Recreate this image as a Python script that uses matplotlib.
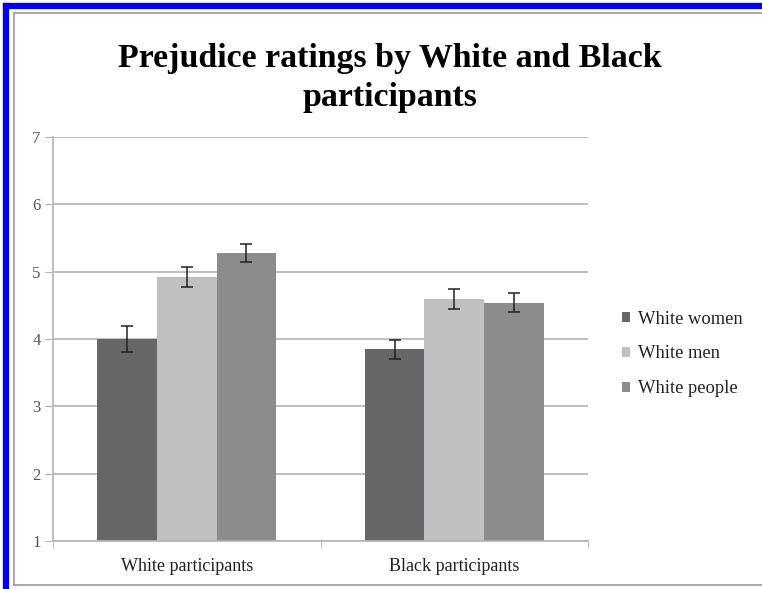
import matplotlib

matplotlib.use("Agg")
import matplotlib.pyplot as plt
from matplotlib.lines import Line2D
from matplotlib.patches import Patch

groups = ["White participants", "Black participants"]
series = ["White women", "White men", "White people"]
means = {
    "White women": [4.00, 3.85],
    "White men": [4.92, 4.60],
    "White people": [5.28, 4.54],
}
errors = {
    "White women": [0.19, 0.14],
    "White men": [0.15, 0.15],
    "White people": [0.135, 0.14],
}
colors = ["#666769", "#c0c0c0", "#8c8c8c"]
title = "Prejudice ratings by White and Black\nparticipants"

plt.rcParams["font.family"] = ["Liberation Serif", "DejaVu Serif"]

fig = plt.figure(figsize=(7.62, 5.89), dpi=100)
ax = fig.add_axes([53 / 762, 48 / 589, 535 / 762, 404 / 589])

width = 0.2225
for i, name in enumerate(series):
    xs = [g + (i - 1) * width for g in range(len(groups))]
    ax.bar(xs, means[name], width=width, bottom=0, color=colors[i], zorder=2)
    ax.errorbar(xs, means[name], yerr=errors[name], fmt="none", ecolor="#222222",
                elinewidth=1.1, capsize=4, capthick=1.1, zorder=3)

ax.set_ylim(1, 7)
ax.set_xlim(-0.5, len(groups) - 0.5)
ax.set_yticks(range(1, 8))
ax.yaxis.grid(True, color="#b4b4b4", linewidth=1.2, zorder=0)
ax.set_axisbelow(True)
ax.set_xticks(range(len(groups)))
ax.set_xticklabels(groups)
ax.tick_params(axis="x", length=0, labelsize=13, labelcolor="#222222", pad=12)
ax.set_xticks([-0.5, 0.5, 1.5], minor=True)
ax.tick_params(axis="x", which="minor", length=5, color="#b4b4b4", direction="out")
ax.tick_params(axis="y", length=6, color="#b4b4b4", labelsize=12,
               labelcolor="#555555", pad=3)
for s in ["top", "right"]:
    ax.spines[s].set_visible(False)
for s in ["left", "bottom"]:
    ax.spines[s].set_color("#b4b4b4")
    ax.spines[s].set_linewidth(1.2)

fig.text(390 / 762, 1 - 78 / 589, title, ha="center", va="center",
         fontsize=24.4, fontweight="bold", linespacing=1.3)

handles = [Patch(facecolor=c, edgecolor="none") for c in colors]
fig.legend(handles, series, loc="center left", bbox_to_anchor=(605 / 762, 1 - 354 / 589),
           frameon=False, fontsize=13.3, handlelength=0.45, handleheight=0.45,
           handletextpad=0.45, labelspacing=0.97, labelcolor="#222222")

# page frame: blue outer edge and gray inner edge
for xy in [([5.5, 5.5], [0, 589 - 5.5]), ([5.5, 762], [589 - 5.5, 589 - 5.5])]:
    fig.add_artist(Line2D([xy[0][0] / 762, xy[0][1] / 762],
                          [xy[1][0] / 589, xy[1][1] / 589],
                          color="#0000ff", linewidth=4.5))
for xs, ys in [([14, 14], [585, 13]), ([14, 762], [13, 13]), ([14, 762], [585, 585])]:
    fig.add_artist(Line2D([x / 762 for x in xs], [1 - y / 589 for y in ys],
                          color="#9a9a9a", linewidth=1.2))

fig.savefig("out.png", dpi=100)
